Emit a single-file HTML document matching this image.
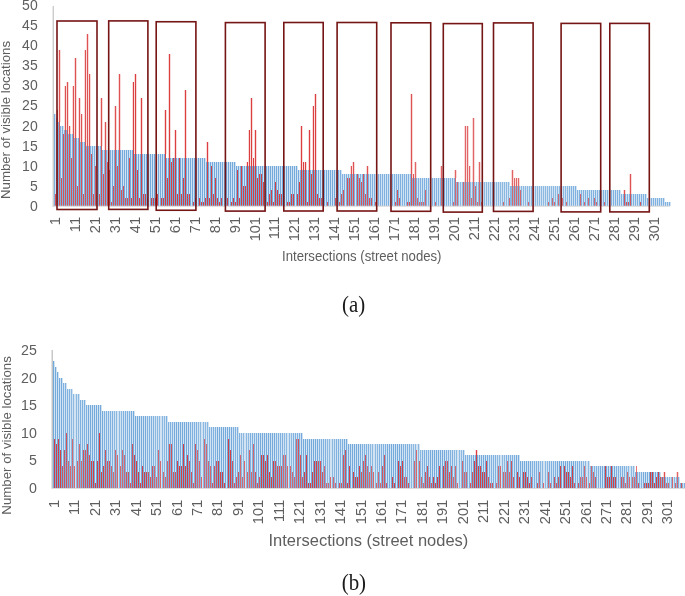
<!DOCTYPE html>
<html><head><meta charset="utf-8"><title>Intersections chart</title>
<style>
html,body{margin:0;padding:0;background:#fff;}
body{width:685px;height:596px;overflow:hidden;}
svg{display:block;font-family:"Liberation Sans",sans-serif;}
.cap{font-family:"Liberation Serif",serif;font-size:23.5px;fill:#1a1a1a;}
</style></head><body>
<svg width="685" height="596" viewBox="0 0 685 596">
<rect width="685" height="596" fill="#fff"/>
<g id="chart-a">
<path d="M53 205.9v-91.82h3v91.82zM55 205.9v-87.82h3v87.82zM57 205.9v-83.83h3v83.83zM59 205.9v-79.84h3v79.84zM61 205.9v-79.84h3v79.84zM63 205.9v-75.85h3v75.85zM65 205.9v-75.85h3v75.85zM67 205.9v-71.86h3v71.86zM69 205.9v-71.86h3v71.86zM71 205.9v-71.86h3v71.86zM73 205.9v-67.86h3v67.86zM75 205.9v-67.86h3v67.86zM77 205.9v-67.86h3v67.86zM79 205.9v-63.87h3v63.87zM81 205.9v-63.87h3v63.87zM83 205.9v-63.87h3v63.87zM85 205.9v-59.88h3v59.88zM87 205.9v-59.88h3v59.88zM89 205.9v-59.88h3v59.88zM91 205.9v-59.88h3v59.88zM93 205.9v-59.88h3v59.88zM95 205.9v-59.88h3v59.88zM97 205.9v-59.88h3v59.88zM99 205.9v-59.88h3v59.88zM101 205.9v-55.89h3v55.89zM103 205.9v-55.89h3v55.89zM105 205.9v-55.89h3v55.89zM107 205.9v-55.89h3v55.89zM109 205.9v-55.89h3v55.89zM111 205.9v-55.89h3v55.89zM113 205.9v-55.89h3v55.89zM115 205.9v-55.89h3v55.89zM117 205.9v-55.89h3v55.89zM119 205.9v-55.89h3v55.89zM121 205.9v-55.89h3v55.89zM123 205.9v-55.89h3v55.89zM125 205.9v-55.89h3v55.89zM127 205.9v-55.89h3v55.89zM129 205.9v-55.89h3v55.89zM131 205.9v-55.89h3v55.89zM133 205.9v-51.9h3v51.9zM135 205.9v-51.9h3v51.9zM137 205.9v-51.9h3v51.9zM139 205.9v-51.9h3v51.9zM141 205.9v-51.9h3v51.9zM143 205.9v-51.9h3v51.9zM145 205.9v-51.9h3v51.9zM147 205.9v-51.9h3v51.9zM149 205.9v-51.9h3v51.9zM151 205.9v-51.9h3v51.9zM153 205.9v-51.9h3v51.9zM155 205.9v-51.9h3v51.9zM157 205.9v-51.9h3v51.9zM159 205.9v-51.9h3v51.9zM161 205.9v-51.9h3v51.9zM163 205.9v-51.9h3v51.9zM165 205.9v-47.9h3v47.9zM167 205.9v-47.9h3v47.9zM169 205.9v-47.9h3v47.9zM171 205.9v-47.9h3v47.9zM173 205.9v-47.9h3v47.9zM175 205.9v-47.9h3v47.9zM177 205.9v-47.9h3v47.9zM179 205.9v-47.9h3v47.9zM181 205.9v-47.9h3v47.9zM183 205.9v-47.9h3v47.9zM185 205.9v-47.9h3v47.9zM187 205.9v-47.9h3v47.9zM189 205.9v-47.9h3v47.9zM191 205.9v-47.9h3v47.9zM193 205.9v-47.9h3v47.9zM195 205.9v-47.9h3v47.9zM197 205.9v-47.9h3v47.9zM199 205.9v-47.9h3v47.9zM201 205.9v-47.9h3v47.9zM203 205.9v-47.9h3v47.9zM205 205.9v-43.91h3v43.91zM207 205.9v-43.91h3v43.91zM209 205.9v-43.91h3v43.91zM211 205.9v-43.91h3v43.91zM213 205.9v-43.91h3v43.91zM215 205.9v-43.91h3v43.91zM217 205.9v-43.91h3v43.91zM219 205.9v-43.91h3v43.91zM221 205.9v-43.91h3v43.91zM223 205.9v-43.91h3v43.91zM225 205.9v-43.91h3v43.91zM227 205.9v-43.91h3v43.91zM229 205.9v-43.91h3v43.91zM231 205.9v-43.91h3v43.91zM233 205.9v-43.91h3v43.91zM235 205.9v-39.92h3v39.92zM237 205.9v-39.92h3v39.92zM239 205.9v-39.92h3v39.92zM241 205.9v-39.92h3v39.92zM243 205.9v-39.92h3v39.92zM245 205.9v-39.92h3v39.92zM247 205.9v-39.92h3v39.92zM249 205.9v-39.92h3v39.92zM251 205.9v-39.92h3v39.92zM253 205.9v-39.92h3v39.92zM255 205.9v-39.92h3v39.92zM257 205.9v-39.92h3v39.92zM259 205.9v-39.92h3v39.92zM261 205.9v-39.92h3v39.92zM263 205.9v-39.92h3v39.92zM265 205.9v-39.92h3v39.92zM267 205.9v-39.92h3v39.92zM269 205.9v-39.92h3v39.92zM271 205.9v-39.92h3v39.92zM273 205.9v-39.92h3v39.92zM275 205.9v-39.92h3v39.92zM277 205.9v-39.92h3v39.92zM279 205.9v-39.92h3v39.92zM281 205.9v-39.92h3v39.92zM283 205.9v-39.92h3v39.92zM285 205.9v-39.92h3v39.92zM287 205.9v-39.92h3v39.92zM289 205.9v-39.92h3v39.92zM291 205.9v-39.92h3v39.92zM293 205.9v-39.92h3v39.92zM295 205.9v-39.92h3v39.92zM297 205.9v-35.93h3v35.93zM299 205.9v-35.93h3v35.93zM301 205.9v-35.93h3v35.93zM303 205.9v-35.93h3v35.93zM305 205.9v-35.93h3v35.93zM307 205.9v-35.93h3v35.93zM309 205.9v-35.93h3v35.93zM311 205.9v-35.93h3v35.93zM313 205.9v-35.93h3v35.93zM315 205.9v-35.93h3v35.93zM317 205.9v-35.93h3v35.93zM319 205.9v-35.93h3v35.93zM321 205.9v-35.93h3v35.93zM323 205.9v-35.93h3v35.93zM325 205.9v-35.93h3v35.93zM327 205.9v-35.93h3v35.93zM329 205.9v-35.93h3v35.93zM331 205.9v-35.93h3v35.93zM333 205.9v-35.93h3v35.93zM335 205.9v-35.93h3v35.93zM337 205.9v-35.93h3v35.93zM339 205.9v-35.93h3v35.93zM341 205.9v-31.94h3v31.94zM343 205.9v-31.94h3v31.94zM345 205.9v-31.94h3v31.94zM347 205.9v-31.94h3v31.94zM349 205.9v-31.94h3v31.94zM351 205.9v-31.94h3v31.94zM353 205.9v-31.94h3v31.94zM355 205.9v-31.94h3v31.94zM357 205.9v-31.94h3v31.94zM359 205.9v-31.94h3v31.94zM361 205.9v-31.94h3v31.94zM363 205.9v-31.94h3v31.94zM365 205.9v-31.94h3v31.94zM367 205.9v-31.94h3v31.94zM369 205.9v-31.94h3v31.94zM371 205.9v-31.94h3v31.94zM373 205.9v-31.94h3v31.94zM375 205.9v-31.94h3v31.94zM377 205.9v-31.94h3v31.94zM379 205.9v-31.94h3v31.94zM381 205.9v-31.94h3v31.94zM383 205.9v-31.94h3v31.94zM385 205.9v-31.94h3v31.94zM387 205.9v-31.94h3v31.94zM389 205.9v-31.94h3v31.94zM391 205.9v-31.94h3v31.94zM393 205.9v-31.94h3v31.94zM395 205.9v-31.94h3v31.94zM397 205.9v-31.94h3v31.94zM399 205.9v-31.94h3v31.94zM401 205.9v-31.94h3v31.94zM403 205.9v-31.94h3v31.94zM405 205.9v-31.94h3v31.94zM407 205.9v-31.94h3v31.94zM409 205.9v-31.94h3v31.94zM411 205.9v-27.94h3v27.94zM413 205.9v-27.94h3v27.94zM415 205.9v-27.94h3v27.94zM417 205.9v-27.94h3v27.94zM419 205.9v-27.94h3v27.94zM421 205.9v-27.94h3v27.94zM423 205.9v-27.94h3v27.94zM425 205.9v-27.94h3v27.94zM427 205.9v-27.94h3v27.94zM429 205.9v-27.94h3v27.94zM431 205.9v-27.94h3v27.94zM433 205.9v-27.94h3v27.94zM435 205.9v-27.94h3v27.94zM437 205.9v-27.94h3v27.94zM439 205.9v-27.94h3v27.94zM441 205.9v-27.94h3v27.94zM443 205.9v-27.94h3v27.94zM445 205.9v-27.94h3v27.94zM447 205.9v-27.94h3v27.94zM449 205.9v-27.94h3v27.94zM451 205.9v-27.94h3v27.94zM453 205.9v-27.94h3v27.94zM455 205.9v-23.95h3v23.95zM457 205.9v-23.95h3v23.95zM459 205.9v-23.95h3v23.95zM461 205.9v-23.95h3v23.95zM463 205.9v-23.95h3v23.95zM465 205.9v-23.95h3v23.95zM467 205.9v-23.95h3v23.95zM469 205.9v-23.95h3v23.95zM471 205.9v-23.95h3v23.95zM473 205.9v-23.95h3v23.95zM475 205.9v-23.95h3v23.95zM477 205.9v-23.95h3v23.95zM479 205.9v-23.95h3v23.95zM481 205.9v-23.95h3v23.95zM483 205.9v-23.95h3v23.95zM485 205.9v-23.95h3v23.95zM487 205.9v-23.95h3v23.95zM489 205.9v-23.95h3v23.95zM491 205.9v-23.95h3v23.95zM493 205.9v-23.95h3v23.95zM495 205.9v-23.95h3v23.95zM497 205.9v-23.95h3v23.95zM499 205.9v-23.95h3v23.95zM501 205.9v-23.95h3v23.95zM503 205.9v-23.95h3v23.95zM505 205.9v-23.95h3v23.95zM507 205.9v-23.95h3v23.95zM509 205.9v-19.96h3v19.96zM510 205.9v-19.96h3v19.96zM512 205.9v-19.96h3v19.96zM514 205.9v-19.96h3v19.96zM516 205.9v-19.96h3v19.96zM518 205.9v-19.96h3v19.96zM520 205.9v-19.96h3v19.96zM522 205.9v-19.96h3v19.96zM524 205.9v-19.96h3v19.96zM526 205.9v-19.96h3v19.96zM528 205.9v-19.96h3v19.96zM530 205.9v-19.96h3v19.96zM532 205.9v-19.96h3v19.96zM534 205.9v-19.96h3v19.96zM536 205.9v-19.96h3v19.96zM538 205.9v-19.96h3v19.96zM540 205.9v-19.96h3v19.96zM542 205.9v-19.96h3v19.96zM544 205.9v-19.96h3v19.96zM546 205.9v-19.96h3v19.96zM548 205.9v-19.96h3v19.96zM550 205.9v-19.96h3v19.96zM552 205.9v-19.96h3v19.96zM554 205.9v-19.96h3v19.96zM556 205.9v-19.96h3v19.96zM558 205.9v-19.96h3v19.96zM560 205.9v-19.96h3v19.96zM562 205.9v-19.96h3v19.96zM564 205.9v-19.96h3v19.96zM566 205.9v-19.96h3v19.96zM568 205.9v-19.96h3v19.96zM570 205.9v-19.96h3v19.96zM572 205.9v-19.96h3v19.96zM574 205.9v-19.96h3v19.96zM576 205.9v-15.97h3v15.97zM578 205.9v-15.97h3v15.97zM580 205.9v-15.97h3v15.97zM582 205.9v-15.97h3v15.97zM584 205.9v-15.97h3v15.97zM586 205.9v-15.97h3v15.97zM588 205.9v-15.97h3v15.97zM590 205.9v-15.97h3v15.97zM592 205.9v-15.97h3v15.97zM594 205.9v-15.97h3v15.97zM596 205.9v-15.97h3v15.97zM598 205.9v-15.97h3v15.97zM600 205.9v-15.97h3v15.97zM602 205.9v-15.97h3v15.97zM604 205.9v-15.97h3v15.97zM606 205.9v-15.97h3v15.97zM608 205.9v-15.97h3v15.97zM610 205.9v-15.97h3v15.97zM612 205.9v-15.97h3v15.97zM614 205.9v-15.97h3v15.97zM616 205.9v-15.97h3v15.97zM618 205.9v-15.97h3v15.97zM620 205.9v-11.98h3v11.98zM622 205.9v-11.98h3v11.98zM624 205.9v-11.98h3v11.98zM626 205.9v-11.98h3v11.98zM628 205.9v-11.98h3v11.98zM630 205.9v-11.98h3v11.98zM632 205.9v-11.98h3v11.98zM634 205.9v-11.98h3v11.98zM636 205.9v-11.98h3v11.98zM638 205.9v-11.98h3v11.98zM640 205.9v-11.98h3v11.98zM642 205.9v-11.98h3v11.98zM644 205.9v-11.98h3v11.98zM646 205.9v-7.98h3v7.98zM648 205.9v-7.98h3v7.98zM650 205.9v-7.98h3v7.98zM652 205.9v-7.98h3v7.98zM654 205.9v-7.98h3v7.98zM656 205.9v-7.98h3v7.98zM658 205.9v-7.98h3v7.98zM660 205.9v-7.98h3v7.98zM662 205.9v-7.98h3v7.98zM664 205.9v-3.99h3v3.99zM666 205.9v-3.99h3v3.99zM668 205.9v-3.99h3v3.99z" fill="#5B9BD5" fill-opacity="0.28" shape-rendering="crispEdges"/>
<path d="M456 205.9v-23.95h1v23.95zM458 205.9v-23.95h1v23.95zM460 205.9v-23.95h1v23.95zM462 205.9v-23.95h1v23.95zM464 205.9v-23.95h1v23.95zM466 205.9v-23.95h1v23.95zM468 205.9v-23.95h1v23.95zM470 205.9v-23.95h1v23.95zM472 205.9v-23.95h1v23.95zM474 205.9v-23.95h1v23.95zM476 205.9v-23.95h1v23.95zM478 205.9v-23.95h1v23.95zM480 205.9v-23.95h1v23.95zM482 205.9v-23.95h1v23.95zM484 205.9v-23.95h1v23.95zM486 205.9v-23.95h1v23.95zM488 205.9v-23.95h1v23.95zM490 205.9v-23.95h1v23.95zM492 205.9v-23.95h1v23.95zM494 205.9v-23.95h1v23.95zM496 205.9v-23.95h1v23.95zM498 205.9v-23.95h1v23.95zM500 205.9v-23.95h1v23.95zM502 205.9v-23.95h1v23.95zM504 205.9v-23.95h1v23.95zM506 205.9v-23.95h1v23.95zM508 205.9v-23.95h1v23.95zM510 205.9v-19.96h1v19.96zM511 205.9v-19.96h1v19.96zM513 205.9v-19.96h1v19.96zM515 205.9v-19.96h1v19.96zM517 205.9v-19.96h1v19.96zM519 205.9v-19.96h1v19.96zM521 205.9v-19.96h1v19.96zM523 205.9v-19.96h1v19.96zM525 205.9v-19.96h1v19.96zM527 205.9v-19.96h1v19.96zM529 205.9v-19.96h1v19.96zM531 205.9v-19.96h1v19.96zM533 205.9v-19.96h1v19.96zM535 205.9v-19.96h1v19.96zM537 205.9v-19.96h1v19.96zM539 205.9v-19.96h1v19.96zM541 205.9v-19.96h1v19.96zM543 205.9v-19.96h1v19.96zM545 205.9v-19.96h1v19.96zM547 205.9v-19.96h1v19.96zM549 205.9v-19.96h1v19.96zM551 205.9v-19.96h1v19.96zM553 205.9v-19.96h1v19.96zM555 205.9v-19.96h1v19.96zM557 205.9v-19.96h1v19.96zM559 205.9v-19.96h1v19.96zM561 205.9v-19.96h1v19.96zM563 205.9v-19.96h1v19.96zM565 205.9v-19.96h1v19.96zM567 205.9v-19.96h1v19.96z" fill="#5B9BD5" fill-opacity="0.6" shape-rendering="crispEdges"/>
<path d="M54 205.9v-91.82h1v91.82zM56 205.9v-87.82h1v87.82zM58 205.9v-83.83h1v83.83zM60 205.9v-79.84h1v79.84zM62 205.9v-79.84h1v79.84zM64 205.9v-75.85h1v75.85zM66 205.9v-75.85h1v75.85zM68 205.9v-71.86h1v71.86zM70 205.9v-71.86h1v71.86zM72 205.9v-71.86h1v71.86zM74 205.9v-67.86h1v67.86zM76 205.9v-67.86h1v67.86zM78 205.9v-67.86h1v67.86zM80 205.9v-63.87h1v63.87zM82 205.9v-63.87h1v63.87zM84 205.9v-63.87h1v63.87zM86 205.9v-59.88h1v59.88zM88 205.9v-59.88h1v59.88zM90 205.9v-59.88h1v59.88zM92 205.9v-59.88h1v59.88zM94 205.9v-59.88h1v59.88zM96 205.9v-59.88h1v59.88zM98 205.9v-59.88h1v59.88zM100 205.9v-59.88h1v59.88zM102 205.9v-55.89h1v55.89zM104 205.9v-55.89h1v55.89zM106 205.9v-55.89h1v55.89zM108 205.9v-55.89h1v55.89zM110 205.9v-55.89h1v55.89zM340 205.9v-35.93h1v35.93zM342 205.9v-31.94h1v31.94zM344 205.9v-31.94h1v31.94zM346 205.9v-31.94h1v31.94zM348 205.9v-31.94h1v31.94zM350 205.9v-31.94h1v31.94zM352 205.9v-31.94h1v31.94zM354 205.9v-31.94h1v31.94zM356 205.9v-31.94h1v31.94zM358 205.9v-31.94h1v31.94zM360 205.9v-31.94h1v31.94zM362 205.9v-31.94h1v31.94zM364 205.9v-31.94h1v31.94zM366 205.9v-31.94h1v31.94zM368 205.9v-31.94h1v31.94zM370 205.9v-31.94h1v31.94zM372 205.9v-31.94h1v31.94zM374 205.9v-31.94h1v31.94zM376 205.9v-31.94h1v31.94zM378 205.9v-31.94h1v31.94zM380 205.9v-31.94h1v31.94zM382 205.9v-31.94h1v31.94zM384 205.9v-31.94h1v31.94zM386 205.9v-31.94h1v31.94zM388 205.9v-31.94h1v31.94zM390 205.9v-31.94h1v31.94zM392 205.9v-31.94h1v31.94zM394 205.9v-31.94h1v31.94zM396 205.9v-31.94h1v31.94zM398 205.9v-31.94h1v31.94zM400 205.9v-31.94h1v31.94zM402 205.9v-31.94h1v31.94zM404 205.9v-31.94h1v31.94zM406 205.9v-31.94h1v31.94zM408 205.9v-31.94h1v31.94zM410 205.9v-31.94h1v31.94zM412 205.9v-27.94h1v27.94zM414 205.9v-27.94h1v27.94zM416 205.9v-27.94h1v27.94zM418 205.9v-27.94h1v27.94zM420 205.9v-27.94h1v27.94zM422 205.9v-27.94h1v27.94zM424 205.9v-27.94h1v27.94zM426 205.9v-27.94h1v27.94zM428 205.9v-27.94h1v27.94zM430 205.9v-27.94h1v27.94zM432 205.9v-27.94h1v27.94zM434 205.9v-27.94h1v27.94zM436 205.9v-27.94h1v27.94zM438 205.9v-27.94h1v27.94zM440 205.9v-27.94h1v27.94zM442 205.9v-27.94h1v27.94zM444 205.9v-27.94h1v27.94zM446 205.9v-27.94h1v27.94zM448 205.9v-27.94h1v27.94zM450 205.9v-27.94h1v27.94zM452 205.9v-27.94h1v27.94zM454 205.9v-27.94h1v27.94zM569 205.9v-19.96h1v19.96zM571 205.9v-19.96h1v19.96zM573 205.9v-19.96h1v19.96zM575 205.9v-19.96h1v19.96zM577 205.9v-15.97h1v15.97zM579 205.9v-15.97h1v15.97zM581 205.9v-15.97h1v15.97zM583 205.9v-15.97h1v15.97zM585 205.9v-15.97h1v15.97zM587 205.9v-15.97h1v15.97zM589 205.9v-15.97h1v15.97zM591 205.9v-15.97h1v15.97zM593 205.9v-15.97h1v15.97zM595 205.9v-15.97h1v15.97zM597 205.9v-15.97h1v15.97zM599 205.9v-15.97h1v15.97zM601 205.9v-15.97h1v15.97zM603 205.9v-15.97h1v15.97zM605 205.9v-15.97h1v15.97zM607 205.9v-15.97h1v15.97zM609 205.9v-15.97h1v15.97zM611 205.9v-15.97h1v15.97zM613 205.9v-15.97h1v15.97zM615 205.9v-15.97h1v15.97zM617 205.9v-15.97h1v15.97zM619 205.9v-15.97h1v15.97zM621 205.9v-11.98h1v11.98zM623 205.9v-11.98h1v11.98zM625 205.9v-11.98h1v11.98zM627 205.9v-11.98h1v11.98zM629 205.9v-11.98h1v11.98zM631 205.9v-11.98h1v11.98zM633 205.9v-11.98h1v11.98zM635 205.9v-11.98h1v11.98zM637 205.9v-11.98h1v11.98zM639 205.9v-11.98h1v11.98zM641 205.9v-11.98h1v11.98zM643 205.9v-11.98h1v11.98zM645 205.9v-11.98h1v11.98zM647 205.9v-7.98h1v7.98zM649 205.9v-7.98h1v7.98zM651 205.9v-7.98h1v7.98zM653 205.9v-7.98h1v7.98zM655 205.9v-7.98h1v7.98zM657 205.9v-7.98h1v7.98zM659 205.9v-7.98h1v7.98zM661 205.9v-7.98h1v7.98zM663 205.9v-7.98h1v7.98zM665 205.9v-3.99h1v3.99zM667 205.9v-3.99h1v3.99zM669 205.9v-3.99h1v3.99z" fill="#5B9BD5" fill-opacity="0.7" shape-rendering="crispEdges"/>
<path d="M112 205.9v-55.89h1v55.89zM114 205.9v-55.89h1v55.89zM116 205.9v-55.89h1v55.89zM118 205.9v-55.89h1v55.89zM120 205.9v-55.89h1v55.89zM122 205.9v-55.89h1v55.89zM124 205.9v-55.89h1v55.89zM126 205.9v-55.89h1v55.89zM128 205.9v-55.89h1v55.89zM130 205.9v-55.89h1v55.89zM132 205.9v-55.89h1v55.89zM134 205.9v-51.9h1v51.9zM136 205.9v-51.9h1v51.9zM138 205.9v-51.9h1v51.9zM140 205.9v-51.9h1v51.9zM142 205.9v-51.9h1v51.9zM144 205.9v-51.9h1v51.9zM146 205.9v-51.9h1v51.9zM148 205.9v-51.9h1v51.9zM150 205.9v-51.9h1v51.9zM152 205.9v-51.9h1v51.9zM154 205.9v-51.9h1v51.9zM156 205.9v-51.9h1v51.9zM158 205.9v-51.9h1v51.9zM160 205.9v-51.9h1v51.9zM162 205.9v-51.9h1v51.9zM164 205.9v-51.9h1v51.9zM166 205.9v-47.9h1v47.9zM168 205.9v-47.9h1v47.9zM170 205.9v-47.9h1v47.9zM172 205.9v-47.9h1v47.9zM174 205.9v-47.9h1v47.9zM176 205.9v-47.9h1v47.9zM178 205.9v-47.9h1v47.9zM180 205.9v-47.9h1v47.9zM182 205.9v-47.9h1v47.9zM184 205.9v-47.9h1v47.9zM186 205.9v-47.9h1v47.9zM188 205.9v-47.9h1v47.9zM190 205.9v-47.9h1v47.9zM192 205.9v-47.9h1v47.9zM194 205.9v-47.9h1v47.9zM196 205.9v-47.9h1v47.9zM198 205.9v-47.9h1v47.9zM200 205.9v-47.9h1v47.9zM202 205.9v-47.9h1v47.9zM204 205.9v-47.9h1v47.9zM206 205.9v-43.91h1v43.91zM208 205.9v-43.91h1v43.91zM210 205.9v-43.91h1v43.91zM212 205.9v-43.91h1v43.91zM214 205.9v-43.91h1v43.91zM216 205.9v-43.91h1v43.91zM218 205.9v-43.91h1v43.91zM220 205.9v-43.91h1v43.91zM222 205.9v-43.91h1v43.91zM224 205.9v-43.91h1v43.91zM226 205.9v-43.91h1v43.91zM228 205.9v-43.91h1v43.91zM230 205.9v-43.91h1v43.91zM232 205.9v-43.91h1v43.91zM234 205.9v-43.91h1v43.91zM236 205.9v-39.92h1v39.92zM238 205.9v-39.92h1v39.92zM240 205.9v-39.92h1v39.92zM242 205.9v-39.92h1v39.92zM244 205.9v-39.92h1v39.92zM246 205.9v-39.92h1v39.92zM248 205.9v-39.92h1v39.92zM250 205.9v-39.92h1v39.92zM252 205.9v-39.92h1v39.92zM254 205.9v-39.92h1v39.92zM256 205.9v-39.92h1v39.92zM258 205.9v-39.92h1v39.92zM260 205.9v-39.92h1v39.92zM262 205.9v-39.92h1v39.92zM264 205.9v-39.92h1v39.92zM266 205.9v-39.92h1v39.92zM268 205.9v-39.92h1v39.92zM270 205.9v-39.92h1v39.92zM272 205.9v-39.92h1v39.92zM274 205.9v-39.92h1v39.92zM276 205.9v-39.92h1v39.92zM278 205.9v-39.92h1v39.92zM280 205.9v-39.92h1v39.92zM282 205.9v-39.92h1v39.92zM284 205.9v-39.92h1v39.92zM286 205.9v-39.92h1v39.92zM288 205.9v-39.92h1v39.92zM290 205.9v-39.92h1v39.92zM292 205.9v-39.92h1v39.92zM294 205.9v-39.92h1v39.92zM296 205.9v-39.92h1v39.92zM298 205.9v-35.93h1v35.93zM300 205.9v-35.93h1v35.93zM302 205.9v-35.93h1v35.93zM304 205.9v-35.93h1v35.93zM306 205.9v-35.93h1v35.93zM308 205.9v-35.93h1v35.93zM310 205.9v-35.93h1v35.93zM312 205.9v-35.93h1v35.93zM314 205.9v-35.93h1v35.93zM316 205.9v-35.93h1v35.93zM318 205.9v-35.93h1v35.93zM320 205.9v-35.93h1v35.93zM322 205.9v-35.93h1v35.93zM324 205.9v-35.93h1v35.93zM326 205.9v-35.93h1v35.93zM328 205.9v-35.93h1v35.93zM330 205.9v-35.93h1v35.93zM332 205.9v-35.93h1v35.93zM334 205.9v-35.93h1v35.93zM336 205.9v-35.93h1v35.93zM338 205.9v-35.93h1v35.93z" fill="#5B9BD5" fill-opacity="0.8" shape-rendering="crispEdges"/>
<path d="M56 118.08v-7.98h3v7.98zM58 122.07v-71.86h3v71.86zM64 130.05v-43.91h3v43.91zM66 130.05v-47.9h3v47.9zM68 134.04v-7.98h3v7.98zM72 134.04v-47.9h3v47.9zM74 138.04v-79.84h3v79.84zM78 138.04v-39.92h3v39.92zM80 142.03v-27.94h3v27.94zM84 142.03v-91.82h3v91.82zM86 146.02v-111.78h3v111.78zM88 146.02v-71.86h3v71.86zM100 146.02v-47.9h3v47.9zM104 150.01v-27.94h3v27.94zM114 150.01v-43.91h3v43.91zM118 150.01v-75.85h3v75.85zM132 150.01v-67.86h3v67.86zM134 154v-79.84h3v79.84zM140 154v-55.89h3v55.89zM164 154v-43.91h3v43.91zM168 158v-103.79h3v103.79zM174 158v-27.94h3v27.94zM184 158v-67.86h3v67.86zM206 161.99v-19.96h3v19.96zM246 165.98v-3.99h3v3.99zM248 165.98v-35.93h3v35.93zM250 165.98v-67.86h3v67.86zM252 165.98v-7.98h3v7.98zM254 165.98v-35.93h3v35.93zM300 169.97v-43.91h3v43.91zM302 169.97v-7.98h3v7.98zM304 169.97v-7.98h3v7.98zM308 169.97v-39.92h3v39.92zM312 169.97v-63.87h3v63.87zM314 169.97v-75.85h3v75.85zM350 173.96v-7.98h3v7.98zM352 173.96v-11.98h3v11.98zM366 173.96v-7.98h3v7.98zM410 173.96v-79.84h3v79.84zM412 177.96v-3.99h3v3.99zM414 177.96v-15.97h3v15.97zM440 177.96v-11.98h3v11.98zM454 177.96v-7.98h3v7.98zM464 181.95v-55.89h3v55.89zM466 181.95v-55.89h3v55.89zM468 181.95v-15.97h3v15.97zM472 181.95v-63.87h3v63.87zM478 181.95v-19.96h3v19.96zM511 185.94v-15.97h3v15.97zM513 185.94v-7.98h3v7.98zM515 185.94v-7.98h3v7.98zM517 185.94v-7.98h3v7.98zM623 193.92v-3.99h3v3.99zM629 193.92v-19.96h3v19.96z" fill="#D41818" fill-opacity="0.16" shape-rendering="crispEdges"/>
<path d="M415 205.9v-43.91h1v43.91zM417 205.9v-7.98h1v7.98zM419 205.9v-3.99h1v3.99zM421 205.9v-3.99h1v3.99zM423 205.9v-3.99h1v3.99zM425 205.9v-15.97h1v15.97zM435 205.9v-3.99h1v3.99zM441 205.9v-39.92h1v39.92zM453 205.9v-3.99h1v3.99zM455 205.9v-35.93h1v35.93zM457 205.9v-23.95h1v23.95zM463 205.9v-23.95h1v23.95zM465 205.9v-79.84h1v79.84zM467 205.9v-79.84h1v79.84zM469 205.9v-39.92h1v39.92zM471 205.9v-7.98h1v7.98zM473 205.9v-87.82h1v87.82zM475 205.9v-19.96h1v19.96zM477 205.9v-3.99h1v3.99zM479 205.9v-43.91h1v43.91zM481 205.9v-3.99h1v3.99zM503 205.9v-3.99h1v3.99zM509 205.9v-7.98h1v7.98zM512 205.9v-35.93h1v35.93zM514 205.9v-27.94h1v27.94zM516 205.9v-27.94h1v27.94zM518 205.9v-27.94h1v27.94zM520 205.9v-15.97h1v15.97zM528 205.9v-3.99h1v3.99zM548 205.9v-3.99h1v3.99zM552 205.9v-7.98h1v7.98zM554 205.9v-3.99h1v3.99zM558 205.9v-11.98h1v11.98zM562 205.9v-7.98h1v7.98zM566 205.9v-3.99h1v3.99zM580 205.9v-11.98h1v11.98zM584 205.9v-3.99h1v3.99zM588 205.9v-7.98h1v7.98zM594 205.9v-7.98h1v7.98zM596 205.9v-3.99h1v3.99zM604 205.9v-3.99h1v3.99z" fill="#D41818" fill-opacity="0.6" shape-rendering="crispEdges"/>
<path d="M53 205.9v-31.94h1v31.94zM55 205.9v-11.98h1v11.98zM57 205.9v-95.81h1v95.81zM59 205.9v-155.69h1v155.69zM61 205.9v-27.94h1v27.94zM63 205.9v-71.86h1v71.86zM65 205.9v-119.76h1v119.76zM67 205.9v-123.75h1v123.75zM69 205.9v-79.84h1v79.84zM71 205.9v-47.9h1v47.9zM73 205.9v-119.76h1v119.76zM75 205.9v-147.7h1v147.7zM77 205.9v-19.96h1v19.96zM79 205.9v-107.78h1v107.78zM81 205.9v-91.82h1v91.82zM83 205.9v-11.98h1v11.98zM85 205.9v-155.69h1v155.69zM87 205.9v-171.66h1v171.66zM89 205.9v-131.74h1v131.74zM91 205.9v-51.9h1v51.9zM93 205.9v-11.98h1v11.98zM95 205.9v-39.92h1v39.92zM99 205.9v-11.98h1v11.98zM101 205.9v-107.78h1v107.78zM103 205.9v-31.94h1v31.94zM105 205.9v-83.83h1v83.83zM107 205.9v-43.91h1v43.91zM109 205.9v-35.93h1v35.93zM111 205.9v-3.99h1v3.99zM113 205.9v-19.96h1v19.96zM115 205.9v-99.8h1v99.8zM117 205.9v-39.92h1v39.92zM119 205.9v-131.74h1v131.74zM121 205.9v-15.97h1v15.97zM123 205.9v-19.96h1v19.96zM125 205.9v-7.98h1v7.98zM127 205.9v-7.98h1v7.98zM129 205.9v-47.9h1v47.9zM321 205.9v-7.98h1v7.98zM327 205.9v-3.99h1v3.99zM335 205.9v-7.98h1v7.98zM339 205.9v-3.99h1v3.99zM341 205.9v-11.98h1v11.98zM343 205.9v-15.97h1v15.97zM347 205.9v-27.94h1v27.94zM349 205.9v-27.94h1v27.94zM351 205.9v-39.92h1v39.92zM353 205.9v-43.91h1v43.91zM357 205.9v-31.94h1v31.94zM359 205.9v-27.94h1v27.94zM361 205.9v-23.95h1v23.95zM363 205.9v-31.94h1v31.94zM365 205.9v-11.98h1v11.98zM367 205.9v-39.92h1v39.92zM369 205.9v-7.98h1v7.98zM371 205.9v-7.98h1v7.98zM375 205.9v-3.99h1v3.99zM395 205.9v-3.99h1v3.99zM397 205.9v-15.97h1v15.97zM399 205.9v-7.98h1v7.98zM407 205.9v-3.99h1v3.99zM409 205.9v-3.99h1v3.99zM411 205.9v-111.78h1v111.78zM413 205.9v-31.94h1v31.94zM624 205.9v-15.97h1v15.97zM626 205.9v-3.99h1v3.99zM628 205.9v-3.99h1v3.99zM630 205.9v-31.94h1v31.94zM640 205.9v-3.99h1v3.99z" fill="#D41818" fill-opacity="0.7" shape-rendering="crispEdges"/>
<path d="M131 205.9v-7.98h1v7.98zM133 205.9v-123.75h1v123.75zM135 205.9v-131.74h1v131.74zM137 205.9v-35.93h1v35.93zM139 205.9v-7.98h1v7.98zM141 205.9v-107.78h1v107.78zM143 205.9v-11.98h1v11.98zM145 205.9v-11.98h1v11.98zM147 205.9v-7.98h1v7.98zM151 205.9v-7.98h1v7.98zM153 205.9v-7.98h1v7.98zM155 205.9v-7.98h1v7.98zM157 205.9v-11.98h1v11.98zM161 205.9v-7.98h1v7.98zM163 205.9v-7.98h1v7.98zM165 205.9v-95.81h1v95.81zM167 205.9v-27.94h1v27.94zM169 205.9v-151.7h1v151.7zM171 205.9v-43.91h1v43.91zM173 205.9v-47.9h1v47.9zM175 205.9v-75.85h1v75.85zM177 205.9v-11.98h1v11.98zM179 205.9v-47.9h1v47.9zM181 205.9v-11.98h1v11.98zM183 205.9v-27.94h1v27.94zM185 205.9v-115.77h1v115.77zM187 205.9v-11.98h1v11.98zM189 205.9v-11.98h1v11.98zM193 205.9v-3.99h1v3.99zM195 205.9v-7.98h1v7.98zM199 205.9v-7.98h1v7.98zM201 205.9v-3.99h1v3.99zM203 205.9v-3.99h1v3.99zM205 205.9v-7.98h1v7.98zM207 205.9v-63.87h1v63.87zM209 205.9v-7.98h1v7.98zM211 205.9v-39.92h1v39.92zM213 205.9v-11.98h1v11.98zM215 205.9v-27.94h1v27.94zM217 205.9v-7.98h1v7.98zM219 205.9v-3.99h1v3.99zM221 205.9v-7.98h1v7.98zM227 205.9v-7.98h1v7.98zM231 205.9v-3.99h1v3.99zM233 205.9v-7.98h1v7.98zM235 205.9v-3.99h1v3.99zM237 205.9v-35.93h1v35.93zM239 205.9v-7.98h1v7.98zM241 205.9v-39.92h1v39.92zM243 205.9v-19.96h1v19.96zM245 205.9v-19.96h1v19.96zM247 205.9v-43.91h1v43.91zM249 205.9v-75.85h1v75.85zM251 205.9v-107.78h1v107.78zM253 205.9v-47.9h1v47.9zM255 205.9v-75.85h1v75.85zM257 205.9v-27.94h1v27.94zM259 205.9v-31.94h1v31.94zM261 205.9v-31.94h1v31.94zM263 205.9v-23.95h1v23.95zM267 205.9v-3.99h1v3.99zM269 205.9v-11.98h1v11.98zM271 205.9v-15.97h1v15.97zM273 205.9v-3.99h1v3.99zM275 205.9v-23.95h1v23.95zM277 205.9v-15.97h1v15.97zM279 205.9v-11.98h1v11.98zM281 205.9v-11.98h1v11.98zM283 205.9v-7.98h1v7.98zM287 205.9v-3.99h1v3.99zM289 205.9v-3.99h1v3.99zM291 205.9v-11.98h1v11.98zM293 205.9v-11.98h1v11.98zM297 205.9v-11.98h1v11.98zM299 205.9v-23.95h1v23.95zM301 205.9v-79.84h1v79.84zM303 205.9v-43.91h1v43.91zM305 205.9v-43.91h1v43.91zM307 205.9v-3.99h1v3.99zM309 205.9v-75.85h1v75.85zM311 205.9v-31.94h1v31.94zM313 205.9v-99.8h1v99.8zM315 205.9v-111.78h1v111.78zM317 205.9v-11.98h1v11.98zM319 205.9v-7.98h1v7.98z" fill="#D41818" fill-opacity="0.8" shape-rendering="crispEdges"/>
<line x1="53.3" y1="6" x2="53.3" y2="206.5" stroke="#CCCCCC" stroke-width="1.45"/>
<line x1="52.6" y1="206.2" x2="670" y2="206.2" stroke="#D4D4D4" stroke-width="1"/>
<rect x="57" y="21" width="40" height="188.5" fill="none" stroke="#761515" stroke-width="1.6"/>
<rect x="108.7" y="20.9" width="39.2" height="188.5" fill="none" stroke="#761515" stroke-width="1.6"/>
<rect x="156.2" y="21.75" width="39.7" height="188.5" fill="none" stroke="#761515" stroke-width="1.6"/>
<rect x="225.4" y="22.6" width="39.7" height="188.5" fill="none" stroke="#761515" stroke-width="1.6"/>
<rect x="283.8" y="22.5" width="39.4" height="188.5" fill="none" stroke="#761515" stroke-width="1.6"/>
<rect x="337.1" y="22.5" width="39.6" height="188.5" fill="none" stroke="#761515" stroke-width="1.6"/>
<rect x="391" y="22.8" width="39.7" height="188.5" fill="none" stroke="#761515" stroke-width="1.6"/>
<rect x="443.3" y="23.6" width="39" height="188.5" fill="none" stroke="#761515" stroke-width="1.6"/>
<rect x="493.5" y="22.9" width="39.6" height="188.5" fill="none" stroke="#761515" stroke-width="1.6"/>
<rect x="561.1" y="23.4" width="39.6" height="188.5" fill="none" stroke="#761515" stroke-width="1.6"/>
<rect x="609.8" y="23.4" width="39.5" height="188.5" fill="none" stroke="#761515" stroke-width="1.6"/>
<text x="37.7" y="210.9" text-anchor="end" font-size="14" fill="#5e5e5e">0</text>
<text x="37.7" y="190.8" text-anchor="end" font-size="14" fill="#5e5e5e">5</text>
<text x="37.7" y="170.7" text-anchor="end" font-size="14" fill="#5e5e5e">10</text>
<text x="37.7" y="150.6" text-anchor="end" font-size="14" fill="#5e5e5e">15</text>
<text x="37.7" y="130.5" text-anchor="end" font-size="14" fill="#5e5e5e">20</text>
<text x="37.7" y="110.4" text-anchor="end" font-size="14" fill="#5e5e5e">25</text>
<text x="37.7" y="90.3" text-anchor="end" font-size="14" fill="#5e5e5e">30</text>
<text x="37.7" y="70.2" text-anchor="end" font-size="14" fill="#5e5e5e">35</text>
<text x="37.7" y="50.1" text-anchor="end" font-size="14" fill="#5e5e5e">40</text>
<text x="37.7" y="30" text-anchor="end" font-size="14" fill="#5e5e5e">45</text>
<text x="37.7" y="9.9" text-anchor="end" font-size="14" fill="#5e5e5e">50</text>
<text transform="translate(60 217) rotate(-90)" text-anchor="end" font-size="14.6" fill="#5e5e5e">1</text>
<text transform="translate(79.95 217) rotate(-90)" text-anchor="end" font-size="14.6" fill="#5e5e5e">11</text>
<text transform="translate(99.9 217) rotate(-90)" text-anchor="end" font-size="14.6" fill="#5e5e5e">21</text>
<text transform="translate(119.85 217) rotate(-90)" text-anchor="end" font-size="14.6" fill="#5e5e5e">31</text>
<text transform="translate(139.8 217) rotate(-90)" text-anchor="end" font-size="14.6" fill="#5e5e5e">41</text>
<text transform="translate(159.75 217) rotate(-90)" text-anchor="end" font-size="14.6" fill="#5e5e5e">51</text>
<text transform="translate(179.7 217) rotate(-90)" text-anchor="end" font-size="14.6" fill="#5e5e5e">61</text>
<text transform="translate(199.65 217) rotate(-90)" text-anchor="end" font-size="14.6" fill="#5e5e5e">71</text>
<text transform="translate(219.6 217) rotate(-90)" text-anchor="end" font-size="14.6" fill="#5e5e5e">81</text>
<text transform="translate(239.55 217) rotate(-90)" text-anchor="end" font-size="14.6" fill="#5e5e5e">91</text>
<text transform="translate(259.5 217) rotate(-90)" text-anchor="end" font-size="14.6" fill="#5e5e5e">101</text>
<text transform="translate(279.45 217) rotate(-90)" text-anchor="end" font-size="14.6" fill="#5e5e5e">111</text>
<text transform="translate(299.4 217) rotate(-90)" text-anchor="end" font-size="14.6" fill="#5e5e5e">121</text>
<text transform="translate(319.35 217) rotate(-90)" text-anchor="end" font-size="14.6" fill="#5e5e5e">131</text>
<text transform="translate(339.3 217) rotate(-90)" text-anchor="end" font-size="14.6" fill="#5e5e5e">141</text>
<text transform="translate(359.25 217) rotate(-90)" text-anchor="end" font-size="14.6" fill="#5e5e5e">151</text>
<text transform="translate(379.2 217) rotate(-90)" text-anchor="end" font-size="14.6" fill="#5e5e5e">161</text>
<text transform="translate(399.15 217) rotate(-90)" text-anchor="end" font-size="14.6" fill="#5e5e5e">171</text>
<text transform="translate(419.1 217) rotate(-90)" text-anchor="end" font-size="14.6" fill="#5e5e5e">181</text>
<text transform="translate(439.05 217) rotate(-90)" text-anchor="end" font-size="14.6" fill="#5e5e5e">191</text>
<text transform="translate(459 217) rotate(-90)" text-anchor="end" font-size="14.6" fill="#5e5e5e">201</text>
<text transform="translate(478.95 217) rotate(-90)" text-anchor="end" font-size="14.6" fill="#5e5e5e">211</text>
<text transform="translate(498.9 217) rotate(-90)" text-anchor="end" font-size="14.6" fill="#5e5e5e">221</text>
<text transform="translate(518.85 217) rotate(-90)" text-anchor="end" font-size="14.6" fill="#5e5e5e">231</text>
<text transform="translate(538.8 217) rotate(-90)" text-anchor="end" font-size="14.6" fill="#5e5e5e">241</text>
<text transform="translate(558.75 217) rotate(-90)" text-anchor="end" font-size="14.6" fill="#5e5e5e">251</text>
<text transform="translate(578.7 217) rotate(-90)" text-anchor="end" font-size="14.6" fill="#5e5e5e">261</text>
<text transform="translate(598.65 217) rotate(-90)" text-anchor="end" font-size="14.6" fill="#5e5e5e">271</text>
<text transform="translate(618.6 217) rotate(-90)" text-anchor="end" font-size="14.6" fill="#5e5e5e">281</text>
<text transform="translate(638.55 217) rotate(-90)" text-anchor="end" font-size="14.6" fill="#5e5e5e">291</text>
<text transform="translate(658.5 217) rotate(-90)" text-anchor="end" font-size="14.6" fill="#5e5e5e">301</text>
<text transform="translate(10.1 199) rotate(-90)" font-size="13.5" fill="#5e5e5e" textLength="158" lengthAdjust="spacingAndGlyphs">Number of visible locations</text>
<text x="282" y="260.5" font-size="14.2" fill="#5e5e5e" textLength="159.5" lengthAdjust="spacingAndGlyphs">Intersections (street nodes)</text>
</g>
<text class="cap" x="342" y="312" textLength="23.2" lengthAdjust="spacingAndGlyphs">(a)</text>
<g id="chart-b">
<path d="M52 488.1v-126.73h3v126.73zM54 488.1v-121.22h3v121.22zM56 488.1v-115.71h3v115.71zM58 488.1v-110.2h3v110.2zM60 488.1v-110.2h3v110.2zM62 488.1v-104.69h3v104.69zM64 488.1v-104.69h3v104.69zM66 488.1v-99.18h3v99.18zM68 488.1v-99.18h3v99.18zM70 488.1v-99.18h3v99.18zM72 488.1v-93.67h3v93.67zM75 488.1v-93.67h3v93.67zM77 488.1v-93.67h3v93.67zM79 488.1v-88.16h3v88.16zM81 488.1v-88.16h3v88.16zM83 488.1v-88.16h3v88.16zM85 488.1v-82.65h3v82.65zM87 488.1v-82.65h3v82.65zM89 488.1v-82.65h3v82.65zM91 488.1v-82.65h3v82.65zM93 488.1v-82.65h3v82.65zM95 488.1v-82.65h3v82.65zM97 488.1v-82.65h3v82.65zM99 488.1v-82.65h3v82.65zM101 488.1v-77.14h3v77.14zM103 488.1v-77.14h3v77.14zM105 488.1v-77.14h3v77.14zM107 488.1v-77.14h3v77.14zM109 488.1v-77.14h3v77.14zM111 488.1v-77.14h3v77.14zM113 488.1v-77.14h3v77.14zM115 488.1v-77.14h3v77.14zM118 488.1v-77.14h3v77.14zM120 488.1v-77.14h3v77.14zM122 488.1v-77.14h3v77.14zM124 488.1v-77.14h3v77.14zM126 488.1v-77.14h3v77.14zM128 488.1v-77.14h3v77.14zM130 488.1v-77.14h3v77.14zM132 488.1v-77.14h3v77.14zM134 488.1v-71.63h3v71.63zM136 488.1v-71.63h3v71.63zM138 488.1v-71.63h3v71.63zM140 488.1v-71.63h3v71.63zM142 488.1v-71.63h3v71.63zM144 488.1v-71.63h3v71.63zM146 488.1v-71.63h3v71.63zM148 488.1v-71.63h3v71.63zM150 488.1v-71.63h3v71.63zM152 488.1v-71.63h3v71.63zM154 488.1v-71.63h3v71.63zM156 488.1v-71.63h3v71.63zM158 488.1v-71.63h3v71.63zM161 488.1v-71.63h3v71.63zM163 488.1v-71.63h3v71.63zM165 488.1v-71.63h3v71.63zM167 488.1v-66.12h3v66.12zM169 488.1v-66.12h3v66.12zM171 488.1v-66.12h3v66.12zM173 488.1v-66.12h3v66.12zM175 488.1v-66.12h3v66.12zM177 488.1v-66.12h3v66.12zM179 488.1v-66.12h3v66.12zM181 488.1v-66.12h3v66.12zM183 488.1v-66.12h3v66.12zM185 488.1v-66.12h3v66.12zM187 488.1v-66.12h3v66.12zM189 488.1v-66.12h3v66.12zM191 488.1v-66.12h3v66.12zM193 488.1v-66.12h3v66.12zM195 488.1v-66.12h3v66.12zM197 488.1v-66.12h3v66.12zM199 488.1v-66.12h3v66.12zM202 488.1v-66.12h3v66.12zM204 488.1v-66.12h3v66.12zM206 488.1v-66.12h3v66.12zM208 488.1v-60.61h3v60.61zM210 488.1v-60.61h3v60.61zM212 488.1v-60.61h3v60.61zM214 488.1v-60.61h3v60.61zM216 488.1v-60.61h3v60.61zM218 488.1v-60.61h3v60.61zM220 488.1v-60.61h3v60.61zM222 488.1v-60.61h3v60.61zM224 488.1v-60.61h3v60.61zM226 488.1v-60.61h3v60.61zM228 488.1v-60.61h3v60.61zM230 488.1v-60.61h3v60.61zM232 488.1v-60.61h3v60.61zM234 488.1v-60.61h3v60.61zM236 488.1v-60.61h3v60.61zM238 488.1v-55.1h3v55.1zM240 488.1v-55.1h3v55.1zM242 488.1v-55.1h3v55.1zM245 488.1v-55.1h3v55.1zM247 488.1v-55.1h3v55.1zM249 488.1v-55.1h3v55.1zM251 488.1v-55.1h3v55.1zM253 488.1v-55.1h3v55.1zM255 488.1v-55.1h3v55.1zM257 488.1v-55.1h3v55.1zM259 488.1v-55.1h3v55.1zM261 488.1v-55.1h3v55.1zM263 488.1v-55.1h3v55.1zM265 488.1v-55.1h3v55.1zM267 488.1v-55.1h3v55.1zM269 488.1v-55.1h3v55.1zM271 488.1v-55.1h3v55.1zM273 488.1v-55.1h3v55.1zM275 488.1v-55.1h3v55.1zM277 488.1v-55.1h3v55.1zM279 488.1v-55.1h3v55.1zM281 488.1v-55.1h3v55.1zM283 488.1v-55.1h3v55.1zM285 488.1v-55.1h3v55.1zM288 488.1v-55.1h3v55.1zM290 488.1v-55.1h3v55.1zM292 488.1v-55.1h3v55.1zM294 488.1v-55.1h3v55.1zM296 488.1v-55.1h3v55.1zM298 488.1v-55.1h3v55.1zM300 488.1v-55.1h3v55.1zM302 488.1v-49.59h3v49.59zM304 488.1v-49.59h3v49.59zM306 488.1v-49.59h3v49.59zM308 488.1v-49.59h3v49.59zM310 488.1v-49.59h3v49.59zM312 488.1v-49.59h3v49.59zM314 488.1v-49.59h3v49.59zM316 488.1v-49.59h3v49.59zM318 488.1v-49.59h3v49.59zM320 488.1v-49.59h3v49.59zM322 488.1v-49.59h3v49.59zM324 488.1v-49.59h3v49.59zM326 488.1v-49.59h3v49.59zM328 488.1v-49.59h3v49.59zM331 488.1v-49.59h3v49.59zM333 488.1v-49.59h3v49.59zM335 488.1v-49.59h3v49.59zM337 488.1v-49.59h3v49.59zM339 488.1v-49.59h3v49.59zM341 488.1v-49.59h3v49.59zM343 488.1v-49.59h3v49.59zM345 488.1v-49.59h3v49.59zM347 488.1v-44.08h3v44.08zM349 488.1v-44.08h3v44.08zM351 488.1v-44.08h3v44.08zM353 488.1v-44.08h3v44.08zM355 488.1v-44.08h3v44.08zM357 488.1v-44.08h3v44.08zM359 488.1v-44.08h3v44.08zM361 488.1v-44.08h3v44.08zM363 488.1v-44.08h3v44.08zM365 488.1v-44.08h3v44.08zM367 488.1v-44.08h3v44.08zM369 488.1v-44.08h3v44.08zM371 488.1v-44.08h3v44.08zM374 488.1v-44.08h3v44.08zM376 488.1v-44.08h3v44.08zM378 488.1v-44.08h3v44.08zM380 488.1v-44.08h3v44.08zM382 488.1v-44.08h3v44.08zM384 488.1v-44.08h3v44.08zM386 488.1v-44.08h3v44.08zM388 488.1v-44.08h3v44.08zM390 488.1v-44.08h3v44.08zM392 488.1v-44.08h3v44.08zM394 488.1v-44.08h3v44.08zM396 488.1v-44.08h3v44.08zM398 488.1v-44.08h3v44.08zM400 488.1v-44.08h3v44.08zM402 488.1v-44.08h3v44.08zM404 488.1v-44.08h3v44.08zM406 488.1v-44.08h3v44.08zM408 488.1v-44.08h3v44.08zM410 488.1v-44.08h3v44.08zM412 488.1v-44.08h3v44.08zM414 488.1v-44.08h3v44.08zM417 488.1v-44.08h3v44.08zM419 488.1v-38.57h3v38.57zM421 488.1v-38.57h3v38.57zM423 488.1v-38.57h3v38.57zM425 488.1v-38.57h3v38.57zM427 488.1v-38.57h3v38.57zM429 488.1v-38.57h3v38.57zM431 488.1v-38.57h3v38.57zM433 488.1v-38.57h3v38.57zM435 488.1v-38.57h3v38.57zM437 488.1v-38.57h3v38.57zM439 488.1v-38.57h3v38.57zM441 488.1v-38.57h3v38.57zM443 488.1v-38.57h3v38.57zM445 488.1v-38.57h3v38.57zM447 488.1v-38.57h3v38.57zM449 488.1v-38.57h3v38.57zM451 488.1v-38.57h3v38.57zM453 488.1v-38.57h3v38.57zM455 488.1v-38.57h3v38.57zM458 488.1v-38.57h3v38.57zM460 488.1v-38.57h3v38.57zM462 488.1v-38.57h3v38.57zM464 488.1v-33.06h3v33.06zM466 488.1v-33.06h3v33.06zM468 488.1v-33.06h3v33.06zM470 488.1v-33.06h3v33.06zM472 488.1v-33.06h3v33.06zM474 488.1v-33.06h3v33.06zM476 488.1v-33.06h3v33.06zM478 488.1v-33.06h3v33.06zM480 488.1v-33.06h3v33.06zM482 488.1v-33.06h3v33.06zM484 488.1v-33.06h3v33.06zM486 488.1v-33.06h3v33.06zM488 488.1v-33.06h3v33.06zM490 488.1v-33.06h3v33.06zM492 488.1v-33.06h3v33.06zM494 488.1v-33.06h3v33.06zM496 488.1v-33.06h3v33.06zM498 488.1v-33.06h3v33.06zM501 488.1v-33.06h3v33.06zM503 488.1v-33.06h3v33.06zM505 488.1v-33.06h3v33.06zM507 488.1v-33.06h3v33.06zM509 488.1v-33.06h3v33.06zM511 488.1v-33.06h3v33.06zM513 488.1v-33.06h3v33.06zM515 488.1v-33.06h3v33.06zM517 488.1v-33.06h3v33.06zM519 488.1v-27.55h3v27.55zM521 488.1v-27.55h3v27.55zM523 488.1v-27.55h3v27.55zM525 488.1v-27.55h3v27.55zM527 488.1v-27.55h3v27.55zM529 488.1v-27.55h3v27.55zM531 488.1v-27.55h3v27.55zM533 488.1v-27.55h3v27.55zM535 488.1v-27.55h3v27.55zM537 488.1v-27.55h3v27.55zM539 488.1v-27.55h3v27.55zM541 488.1v-27.55h3v27.55zM544 488.1v-27.55h3v27.55zM546 488.1v-27.55h3v27.55zM548 488.1v-27.55h3v27.55zM550 488.1v-27.55h3v27.55zM552 488.1v-27.55h3v27.55zM554 488.1v-27.55h3v27.55zM556 488.1v-27.55h3v27.55zM558 488.1v-27.55h3v27.55zM560 488.1v-27.55h3v27.55zM562 488.1v-27.55h3v27.55zM564 488.1v-27.55h3v27.55zM566 488.1v-27.55h3v27.55zM568 488.1v-27.55h3v27.55zM570 488.1v-27.55h3v27.55zM572 488.1v-27.55h3v27.55zM574 488.1v-27.55h3v27.55zM576 488.1v-27.55h3v27.55zM578 488.1v-27.55h3v27.55zM580 488.1v-27.55h3v27.55zM582 488.1v-27.55h3v27.55zM584 488.1v-27.55h3v27.55zM587 488.1v-27.55h3v27.55zM589 488.1v-22.04h3v22.04zM591 488.1v-22.04h3v22.04zM593 488.1v-22.04h3v22.04zM595 488.1v-22.04h3v22.04zM597 488.1v-22.04h3v22.04zM599 488.1v-22.04h3v22.04zM601 488.1v-22.04h3v22.04zM603 488.1v-22.04h3v22.04zM605 488.1v-22.04h3v22.04zM607 488.1v-22.04h3v22.04zM609 488.1v-22.04h3v22.04zM611 488.1v-22.04h3v22.04zM613 488.1v-22.04h3v22.04zM615 488.1v-22.04h3v22.04zM617 488.1v-22.04h3v22.04zM619 488.1v-22.04h3v22.04zM621 488.1v-22.04h3v22.04zM623 488.1v-22.04h3v22.04zM625 488.1v-22.04h3v22.04zM627 488.1v-22.04h3v22.04zM630 488.1v-22.04h3v22.04zM632 488.1v-22.04h3v22.04zM634 488.1v-16.53h3v16.53zM636 488.1v-16.53h3v16.53zM638 488.1v-16.53h3v16.53zM640 488.1v-16.53h3v16.53zM642 488.1v-16.53h3v16.53zM644 488.1v-16.53h3v16.53zM646 488.1v-16.53h3v16.53zM648 488.1v-16.53h3v16.53zM650 488.1v-16.53h3v16.53zM652 488.1v-16.53h3v16.53zM654 488.1v-16.53h3v16.53zM656 488.1v-16.53h3v16.53zM658 488.1v-16.53h3v16.53zM660 488.1v-11.02h3v11.02zM662 488.1v-11.02h3v11.02zM664 488.1v-11.02h3v11.02zM666 488.1v-11.02h3v11.02zM668 488.1v-11.02h3v11.02zM670 488.1v-11.02h3v11.02zM673 488.1v-11.02h3v11.02zM675 488.1v-11.02h3v11.02zM677 488.1v-11.02h3v11.02zM679 488.1v-5.51h3v5.51zM681 488.1v-5.51h3v5.51zM683 488.1v-5.51h3v5.51z" fill="#5B9BD5" fill-opacity="0.28" shape-rendering="crispEdges"/>
<path d="M71 488.1v-99.18h1v99.18zM73 488.1v-93.67h1v93.67zM76 488.1v-93.67h1v93.67zM78 488.1v-93.67h1v93.67zM114 488.1v-77.14h1v77.14zM116 488.1v-77.14h1v77.14zM119 488.1v-77.14h1v77.14zM121 488.1v-77.14h1v77.14zM155 488.1v-71.63h1v71.63zM157 488.1v-71.63h1v71.63zM159 488.1v-71.63h1v71.63zM162 488.1v-71.63h1v71.63zM164 488.1v-71.63h1v71.63zM198 488.1v-66.12h1v66.12zM200 488.1v-66.12h1v66.12zM203 488.1v-66.12h1v66.12zM205 488.1v-66.12h1v66.12zM207 488.1v-66.12h1v66.12zM241 488.1v-55.1h1v55.1zM243 488.1v-55.1h1v55.1zM246 488.1v-55.1h1v55.1zM248 488.1v-55.1h1v55.1zM284 488.1v-55.1h1v55.1zM286 488.1v-55.1h1v55.1zM289 488.1v-55.1h1v55.1zM291 488.1v-55.1h1v55.1zM327 488.1v-49.59h1v49.59zM329 488.1v-49.59h1v49.59zM332 488.1v-49.59h1v49.59zM334 488.1v-49.59h1v49.59zM370 488.1v-44.08h1v44.08zM372 488.1v-44.08h1v44.08zM375 488.1v-44.08h1v44.08zM377 488.1v-44.08h1v44.08zM411 488.1v-44.08h1v44.08zM413 488.1v-44.08h1v44.08zM415 488.1v-44.08h1v44.08zM418 488.1v-44.08h1v44.08zM420 488.1v-38.57h1v38.57zM454 488.1v-38.57h1v38.57zM456 488.1v-38.57h1v38.57zM459 488.1v-38.57h1v38.57zM461 488.1v-38.57h1v38.57zM497 488.1v-33.06h1v33.06zM499 488.1v-33.06h1v33.06zM502 488.1v-33.06h1v33.06zM504 488.1v-33.06h1v33.06zM540 488.1v-27.55h1v27.55zM542 488.1v-27.55h1v27.55zM545 488.1v-27.55h1v27.55zM547 488.1v-27.55h1v27.55zM583 488.1v-27.55h1v27.55zM585 488.1v-27.55h1v27.55zM588 488.1v-27.55h1v27.55zM590 488.1v-22.04h1v22.04zM626 488.1v-22.04h1v22.04zM628 488.1v-22.04h1v22.04zM631 488.1v-22.04h1v22.04zM633 488.1v-22.04h1v22.04zM669 488.1v-11.02h1v11.02zM671 488.1v-11.02h1v11.02zM674 488.1v-11.02h1v11.02zM676 488.1v-11.02h1v11.02z" fill="#5B9BD5" fill-opacity="0.6" shape-rendering="crispEdges"/>
<path d="M63 488.1v-104.69h1v104.69zM65 488.1v-104.69h1v104.69zM67 488.1v-99.18h1v99.18zM69 488.1v-99.18h1v99.18zM80 488.1v-88.16h1v88.16zM82 488.1v-88.16h1v88.16zM84 488.1v-88.16h1v88.16zM86 488.1v-82.65h1v82.65zM104 488.1v-77.14h1v77.14zM106 488.1v-77.14h1v77.14zM108 488.1v-77.14h1v77.14zM110 488.1v-77.14h1v77.14zM112 488.1v-77.14h1v77.14zM123 488.1v-77.14h1v77.14zM125 488.1v-77.14h1v77.14zM127 488.1v-77.14h1v77.14zM129 488.1v-77.14h1v77.14zM147 488.1v-71.63h1v71.63zM149 488.1v-71.63h1v71.63zM151 488.1v-71.63h1v71.63zM153 488.1v-71.63h1v71.63zM166 488.1v-71.63h1v71.63zM168 488.1v-66.12h1v66.12zM170 488.1v-66.12h1v66.12zM172 488.1v-66.12h1v66.12zM190 488.1v-66.12h1v66.12zM192 488.1v-66.12h1v66.12zM194 488.1v-66.12h1v66.12zM196 488.1v-66.12h1v66.12zM209 488.1v-60.61h1v60.61zM211 488.1v-60.61h1v60.61zM213 488.1v-60.61h1v60.61zM215 488.1v-60.61h1v60.61zM233 488.1v-60.61h1v60.61zM235 488.1v-60.61h1v60.61zM237 488.1v-60.61h1v60.61zM239 488.1v-55.1h1v55.1zM250 488.1v-55.1h1v55.1zM252 488.1v-55.1h1v55.1zM254 488.1v-55.1h1v55.1zM256 488.1v-55.1h1v55.1zM276 488.1v-55.1h1v55.1zM278 488.1v-55.1h1v55.1zM280 488.1v-55.1h1v55.1zM282 488.1v-55.1h1v55.1zM293 488.1v-55.1h1v55.1zM295 488.1v-55.1h1v55.1zM297 488.1v-55.1h1v55.1zM299 488.1v-55.1h1v55.1zM319 488.1v-49.59h1v49.59zM321 488.1v-49.59h1v49.59zM323 488.1v-49.59h1v49.59zM325 488.1v-49.59h1v49.59zM336 488.1v-49.59h1v49.59zM338 488.1v-49.59h1v49.59zM340 488.1v-49.59h1v49.59zM342 488.1v-49.59h1v49.59zM362 488.1v-44.08h1v44.08zM364 488.1v-44.08h1v44.08zM366 488.1v-44.08h1v44.08zM368 488.1v-44.08h1v44.08zM379 488.1v-44.08h1v44.08zM381 488.1v-44.08h1v44.08zM383 488.1v-44.08h1v44.08zM385 488.1v-44.08h1v44.08zM403 488.1v-44.08h1v44.08zM405 488.1v-44.08h1v44.08zM407 488.1v-44.08h1v44.08zM409 488.1v-44.08h1v44.08zM422 488.1v-38.57h1v38.57zM424 488.1v-38.57h1v38.57zM426 488.1v-38.57h1v38.57zM428 488.1v-38.57h1v38.57zM446 488.1v-38.57h1v38.57zM448 488.1v-38.57h1v38.57zM450 488.1v-38.57h1v38.57zM452 488.1v-38.57h1v38.57zM463 488.1v-38.57h1v38.57zM465 488.1v-33.06h1v33.06zM467 488.1v-33.06h1v33.06zM469 488.1v-33.06h1v33.06zM471 488.1v-33.06h1v33.06zM489 488.1v-33.06h1v33.06zM491 488.1v-33.06h1v33.06zM493 488.1v-33.06h1v33.06zM495 488.1v-33.06h1v33.06zM506 488.1v-33.06h1v33.06zM508 488.1v-33.06h1v33.06zM510 488.1v-33.06h1v33.06zM512 488.1v-33.06h1v33.06zM514 488.1v-33.06h1v33.06zM532 488.1v-27.55h1v27.55zM534 488.1v-27.55h1v27.55zM536 488.1v-27.55h1v27.55zM538 488.1v-27.55h1v27.55zM549 488.1v-27.55h1v27.55zM551 488.1v-27.55h1v27.55zM553 488.1v-27.55h1v27.55zM555 488.1v-27.55h1v27.55zM575 488.1v-27.55h1v27.55zM577 488.1v-27.55h1v27.55zM579 488.1v-27.55h1v27.55zM581 488.1v-27.55h1v27.55zM592 488.1v-22.04h1v22.04zM594 488.1v-22.04h1v22.04zM596 488.1v-22.04h1v22.04zM598 488.1v-22.04h1v22.04zM616 488.1v-22.04h1v22.04zM618 488.1v-22.04h1v22.04zM620 488.1v-22.04h1v22.04zM622 488.1v-22.04h1v22.04zM624 488.1v-22.04h1v22.04zM635 488.1v-16.53h1v16.53zM637 488.1v-16.53h1v16.53zM639 488.1v-16.53h1v16.53zM641 488.1v-16.53h1v16.53zM659 488.1v-16.53h1v16.53zM661 488.1v-11.02h1v11.02zM663 488.1v-11.02h1v11.02zM665 488.1v-11.02h1v11.02zM667 488.1v-11.02h1v11.02zM678 488.1v-11.02h1v11.02zM680 488.1v-5.51h1v5.51zM682 488.1v-5.51h1v5.51zM684 488.1v-5.51h1v5.51z" fill="#5B9BD5" fill-opacity="0.7" shape-rendering="crispEdges"/>
<path d="M53 488.1v-126.73h1v126.73zM55 488.1v-121.22h1v121.22zM57 488.1v-115.71h1v115.71zM59 488.1v-110.2h1v110.2zM61 488.1v-110.2h1v110.2zM88 488.1v-82.65h1v82.65zM90 488.1v-82.65h1v82.65zM92 488.1v-82.65h1v82.65zM94 488.1v-82.65h1v82.65zM96 488.1v-82.65h1v82.65zM98 488.1v-82.65h1v82.65zM100 488.1v-82.65h1v82.65zM102 488.1v-77.14h1v77.14zM131 488.1v-77.14h1v77.14zM133 488.1v-77.14h1v77.14zM135 488.1v-71.63h1v71.63zM137 488.1v-71.63h1v71.63zM139 488.1v-71.63h1v71.63zM141 488.1v-71.63h1v71.63zM143 488.1v-71.63h1v71.63zM145 488.1v-71.63h1v71.63zM174 488.1v-66.12h1v66.12zM176 488.1v-66.12h1v66.12zM178 488.1v-66.12h1v66.12zM180 488.1v-66.12h1v66.12zM182 488.1v-66.12h1v66.12zM184 488.1v-66.12h1v66.12zM186 488.1v-66.12h1v66.12zM188 488.1v-66.12h1v66.12zM217 488.1v-60.61h1v60.61zM219 488.1v-60.61h1v60.61zM221 488.1v-60.61h1v60.61zM223 488.1v-60.61h1v60.61zM225 488.1v-60.61h1v60.61zM227 488.1v-60.61h1v60.61zM229 488.1v-60.61h1v60.61zM231 488.1v-60.61h1v60.61zM258 488.1v-55.1h1v55.1zM260 488.1v-55.1h1v55.1zM262 488.1v-55.1h1v55.1zM264 488.1v-55.1h1v55.1zM266 488.1v-55.1h1v55.1zM268 488.1v-55.1h1v55.1zM270 488.1v-55.1h1v55.1zM272 488.1v-55.1h1v55.1zM274 488.1v-55.1h1v55.1zM301 488.1v-55.1h1v55.1zM303 488.1v-49.59h1v49.59zM305 488.1v-49.59h1v49.59zM307 488.1v-49.59h1v49.59zM309 488.1v-49.59h1v49.59zM311 488.1v-49.59h1v49.59zM313 488.1v-49.59h1v49.59zM315 488.1v-49.59h1v49.59zM317 488.1v-49.59h1v49.59zM344 488.1v-49.59h1v49.59zM346 488.1v-49.59h1v49.59zM348 488.1v-44.08h1v44.08zM350 488.1v-44.08h1v44.08zM352 488.1v-44.08h1v44.08zM354 488.1v-44.08h1v44.08zM356 488.1v-44.08h1v44.08zM358 488.1v-44.08h1v44.08zM360 488.1v-44.08h1v44.08zM387 488.1v-44.08h1v44.08zM389 488.1v-44.08h1v44.08zM391 488.1v-44.08h1v44.08zM393 488.1v-44.08h1v44.08zM395 488.1v-44.08h1v44.08zM397 488.1v-44.08h1v44.08zM399 488.1v-44.08h1v44.08zM401 488.1v-44.08h1v44.08zM430 488.1v-38.57h1v38.57zM432 488.1v-38.57h1v38.57zM434 488.1v-38.57h1v38.57zM436 488.1v-38.57h1v38.57zM438 488.1v-38.57h1v38.57zM440 488.1v-38.57h1v38.57zM442 488.1v-38.57h1v38.57zM444 488.1v-38.57h1v38.57zM473 488.1v-33.06h1v33.06zM475 488.1v-33.06h1v33.06zM477 488.1v-33.06h1v33.06zM479 488.1v-33.06h1v33.06zM481 488.1v-33.06h1v33.06zM483 488.1v-33.06h1v33.06zM485 488.1v-33.06h1v33.06zM487 488.1v-33.06h1v33.06zM516 488.1v-33.06h1v33.06zM518 488.1v-33.06h1v33.06zM520 488.1v-27.55h1v27.55zM522 488.1v-27.55h1v27.55zM524 488.1v-27.55h1v27.55zM526 488.1v-27.55h1v27.55zM528 488.1v-27.55h1v27.55zM530 488.1v-27.55h1v27.55zM557 488.1v-27.55h1v27.55zM559 488.1v-27.55h1v27.55zM561 488.1v-27.55h1v27.55zM563 488.1v-27.55h1v27.55zM565 488.1v-27.55h1v27.55zM567 488.1v-27.55h1v27.55zM569 488.1v-27.55h1v27.55zM571 488.1v-27.55h1v27.55zM573 488.1v-27.55h1v27.55zM600 488.1v-22.04h1v22.04zM602 488.1v-22.04h1v22.04zM604 488.1v-22.04h1v22.04zM606 488.1v-22.04h1v22.04zM608 488.1v-22.04h1v22.04zM610 488.1v-22.04h1v22.04zM612 488.1v-22.04h1v22.04zM614 488.1v-22.04h1v22.04zM643 488.1v-16.53h1v16.53zM645 488.1v-16.53h1v16.53zM647 488.1v-16.53h1v16.53zM649 488.1v-16.53h1v16.53zM651 488.1v-16.53h1v16.53zM653 488.1v-16.53h1v16.53zM655 488.1v-16.53h1v16.53zM657 488.1v-16.53h1v16.53z" fill="#5B9BD5" fill-opacity="0.8" shape-rendering="crispEdges"/>
<path d="M475 455.04v-5.51h3v5.51zM663 477.08v-5.51h3v5.51zM676 477.08v-5.51h3v5.51z" fill="#D41818" fill-opacity="0.16" shape-rendering="crispEdges"/>
<path d="M68 488.1v-27.55h1v27.55zM70 488.1v-22.04h1v22.04zM72 488.1v-49.59h1v49.59zM74 488.1v-22.04h1v22.04zM77 488.1v-27.55h1v27.55zM79 488.1v-44.08h1v44.08zM81 488.1v-27.55h1v27.55zM111 488.1v-22.04h1v22.04zM113 488.1v-16.53h1v16.53zM115 488.1v-38.57h1v38.57zM117 488.1v-33.06h1v33.06zM120 488.1v-22.04h1v22.04zM122 488.1v-38.57h1v38.57zM124 488.1v-33.06h1v33.06zM154 488.1v-22.04h1v22.04zM156 488.1v-11.02h1v11.02zM158 488.1v-38.57h1v38.57zM160 488.1v-27.55h1v27.55zM163 488.1v-16.53h1v16.53zM165 488.1v-11.02h1v11.02zM167 488.1v-27.55h1v27.55zM197 488.1v-38.57h1v38.57zM199 488.1v-27.55h1v27.55zM201 488.1v-11.02h1v11.02zM204 488.1v-49.59h1v49.59zM206 488.1v-44.08h1v44.08zM208 488.1v-27.55h1v27.55zM210 488.1v-22.04h1v22.04zM240 488.1v-33.06h1v33.06zM242 488.1v-11.02h1v11.02zM244 488.1v-27.55h1v27.55zM247 488.1v-16.53h1v16.53zM249 488.1v-38.57h1v38.57zM251 488.1v-16.53h1v16.53zM253 488.1v-44.08h1v44.08zM283 488.1v-33.06h1v33.06zM285 488.1v-33.06h1v33.06zM287 488.1v-22.04h1v22.04zM290 488.1v-22.04h1v22.04zM292 488.1v-16.53h1v16.53zM294 488.1v-11.02h1v11.02zM296 488.1v-49.59h1v49.59zM324 488.1v-22.04h1v22.04zM326 488.1v-5.51h1v5.51zM328 488.1v-5.51h1v5.51zM330 488.1v-11.02h1v11.02zM333 488.1v-11.02h1v11.02zM335 488.1v-5.51h1v5.51zM367 488.1v-22.04h1v22.04zM369 488.1v-16.53h1v16.53zM371 488.1v-22.04h1v22.04zM373 488.1v-16.53h1v16.53zM376 488.1v-5.51h1v5.51zM378 488.1v-16.53h1v16.53zM380 488.1v-5.51h1v5.51zM414 488.1v-27.55h1v27.55zM416 488.1v-38.57h1v38.57zM419 488.1v-27.55h1v27.55zM421 488.1v-11.02h1v11.02zM423 488.1v-5.51h1v5.51zM453 488.1v-11.02h1v11.02zM455 488.1v-22.04h1v22.04zM457 488.1v-5.51h1v5.51zM462 488.1v-27.55h1v27.55zM464 488.1v-16.53h1v16.53zM466 488.1v-16.53h1v16.53zM496 488.1v-5.51h1v5.51zM498 488.1v-22.04h1v22.04zM500 488.1v-22.04h1v22.04zM503 488.1v-16.53h1v16.53zM505 488.1v-16.53h1v16.53zM507 488.1v-27.55h1v27.55zM509 488.1v-16.53h1v16.53zM539 488.1v-16.53h1v16.53zM543 488.1v-5.51h1v5.51zM548 488.1v-16.53h1v16.53zM550 488.1v-5.51h1v5.51zM580 488.1v-11.02h1v11.02zM582 488.1v-11.02h1v11.02zM584 488.1v-22.04h1v22.04zM586 488.1v-11.02h1v11.02zM589 488.1v-5.51h1v5.51zM591 488.1v-22.04h1v22.04zM593 488.1v-16.53h1v16.53zM623 488.1v-11.02h1v11.02zM625 488.1v-5.51h1v5.51zM627 488.1v-16.53h1v16.53zM629 488.1v-11.02h1v11.02zM632 488.1v-11.02h1v11.02zM634 488.1v-11.02h1v11.02zM636 488.1v-22.04h1v22.04zM666 488.1v-5.51h1v5.51zM668 488.1v-5.51h1v5.51zM672 488.1v-11.02h1v11.02zM675 488.1v-5.51h1v5.51zM677 488.1v-16.53h1v16.53z" fill="#D41818" fill-opacity="0.6" shape-rendering="crispEdges"/>
<path d="M62 488.1v-22.04h1v22.04zM64 488.1v-38.57h1v38.57zM66 488.1v-55.1h1v55.1zM83 488.1v-38.57h1v38.57zM85 488.1v-38.57h1v38.57zM87 488.1v-44.08h1v44.08zM89 488.1v-33.06h1v33.06zM105 488.1v-38.57h1v38.57zM107 488.1v-27.55h1v27.55zM109 488.1v-27.55h1v27.55zM126 488.1v-16.53h1v16.53zM128 488.1v-16.53h1v16.53zM130 488.1v-5.51h1v5.51zM132 488.1v-44.08h1v44.08zM148 488.1v-16.53h1v16.53zM150 488.1v-11.02h1v11.02zM152 488.1v-22.04h1v22.04zM169 488.1v-44.08h1v44.08zM171 488.1v-44.08h1v44.08zM173 488.1v-16.53h1v16.53zM175 488.1v-16.53h1v16.53zM189 488.1v-27.55h1v27.55zM191 488.1v-16.53h1v16.53zM193 488.1v-5.51h1v5.51zM195 488.1v-44.08h1v44.08zM212 488.1v-5.51h1v5.51zM214 488.1v-22.04h1v22.04zM216 488.1v-27.55h1v27.55zM232 488.1v-27.55h1v27.55zM234 488.1v-5.51h1v5.51zM236 488.1v-11.02h1v11.02zM238 488.1v-16.53h1v16.53zM255 488.1v-16.53h1v16.53zM257 488.1v-5.51h1v5.51zM259 488.1v-11.02h1v11.02zM275 488.1v-27.55h1v27.55zM277 488.1v-22.04h1v22.04zM279 488.1v-22.04h1v22.04zM281 488.1v-22.04h1v22.04zM298 488.1v-49.59h1v49.59zM300 488.1v-33.06h1v33.06zM302 488.1v-11.02h1v11.02zM318 488.1v-27.55h1v27.55zM320 488.1v-27.55h1v27.55zM322 488.1v-16.53h1v16.53zM339 488.1v-5.51h1v5.51zM341 488.1v-5.51h1v5.51zM343 488.1v-33.06h1v33.06zM345 488.1v-38.57h1v38.57zM361 488.1v-16.53h1v16.53zM363 488.1v-27.55h1v27.55zM365 488.1v-33.06h1v33.06zM382 488.1v-22.04h1v22.04zM384 488.1v-33.06h1v33.06zM386 488.1v-5.51h1v5.51zM404 488.1v-11.02h1v11.02zM406 488.1v-11.02h1v11.02zM408 488.1v-5.51h1v5.51zM425 488.1v-16.53h1v16.53zM427 488.1v-22.04h1v22.04zM429 488.1v-11.02h1v11.02zM431 488.1v-5.51h1v5.51zM445 488.1v-27.55h1v27.55zM447 488.1v-27.55h1v27.55zM449 488.1v-16.53h1v16.53zM451 488.1v-22.04h1v22.04zM470 488.1v-5.51h1v5.51zM472 488.1v-16.53h1v16.53zM488 488.1v-11.02h1v11.02zM490 488.1v-5.51h1v5.51zM492 488.1v-5.51h1v5.51zM511 488.1v-27.55h1v27.55zM513 488.1v-11.02h1v11.02zM531 488.1v-11.02h1v11.02zM537 488.1v-5.51h1v5.51zM554 488.1v-11.02h1v11.02zM556 488.1v-5.51h1v5.51zM558 488.1v-11.02h1v11.02zM574 488.1v-5.51h1v5.51zM578 488.1v-5.51h1v5.51zM595 488.1v-11.02h1v11.02zM621 488.1v-11.02h1v11.02zM638 488.1v-5.51h1v5.51zM644 488.1v-5.51h1v5.51zM660 488.1v-11.02h1v11.02zM662 488.1v-11.02h1v11.02zM664 488.1v-16.53h1v16.53zM681 488.1v-5.51h1v5.51zM685 488.1v-5.51h1v5.51z" fill="#D41818" fill-opacity="0.7" shape-rendering="crispEdges"/>
<path d="M54 488.1v-49.59h1v49.59zM56 488.1v-44.08h1v44.08zM58 488.1v-49.59h1v49.59zM60 488.1v-38.57h1v38.57zM91 488.1v-27.55h1v27.55zM93 488.1v-27.55h1v27.55zM95 488.1v-5.51h1v5.51zM97 488.1v-27.55h1v27.55zM99 488.1v-55.1h1v55.1zM101 488.1v-16.53h1v16.53zM103 488.1v-22.04h1v22.04zM134 488.1v-33.06h1v33.06zM136 488.1v-27.55h1v27.55zM138 488.1v-16.53h1v16.53zM140 488.1v-5.51h1v5.51zM142 488.1v-22.04h1v22.04zM144 488.1v-16.53h1v16.53zM146 488.1v-16.53h1v16.53zM177 488.1v-27.55h1v27.55zM179 488.1v-22.04h1v22.04zM181 488.1v-22.04h1v22.04zM183 488.1v-44.08h1v44.08zM185 488.1v-22.04h1v22.04zM187 488.1v-33.06h1v33.06zM218 488.1v-27.55h1v27.55zM220 488.1v-16.53h1v16.53zM222 488.1v-16.53h1v16.53zM224 488.1v-5.51h1v5.51zM228 488.1v-49.59h1v49.59zM230 488.1v-38.57h1v38.57zM261 488.1v-33.06h1v33.06zM263 488.1v-33.06h1v33.06zM265 488.1v-27.55h1v27.55zM267 488.1v-33.06h1v33.06zM269 488.1v-16.53h1v16.53zM271 488.1v-11.02h1v11.02zM273 488.1v-27.55h1v27.55zM304 488.1v-16.53h1v16.53zM306 488.1v-33.06h1v33.06zM308 488.1v-5.51h1v5.51zM310 488.1v-5.51h1v5.51zM312 488.1v-16.53h1v16.53zM314 488.1v-27.55h1v27.55zM316 488.1v-27.55h1v27.55zM347 488.1v-5.51h1v5.51zM349 488.1v-22.04h1v22.04zM353 488.1v-16.53h1v16.53zM355 488.1v-11.02h1v11.02zM357 488.1v-11.02h1v11.02zM359 488.1v-22.04h1v22.04zM392 488.1v-11.02h1v11.02zM394 488.1v-5.51h1v5.51zM398 488.1v-27.55h1v27.55zM400 488.1v-22.04h1v22.04zM402 488.1v-27.55h1v27.55zM433 488.1v-11.02h1v11.02zM435 488.1v-5.51h1v5.51zM437 488.1v-11.02h1v11.02zM439 488.1v-22.04h1v22.04zM443 488.1v-22.04h1v22.04zM474 488.1v-27.55h1v27.55zM476 488.1v-38.57h1v38.57zM478 488.1v-22.04h1v22.04zM480 488.1v-22.04h1v22.04zM482 488.1v-16.53h1v16.53zM484 488.1v-16.53h1v16.53zM486 488.1v-27.55h1v27.55zM517 488.1v-16.53h1v16.53zM519 488.1v-11.02h1v11.02zM523 488.1v-16.53h1v16.53zM525 488.1v-16.53h1v16.53zM527 488.1v-11.02h1v11.02zM529 488.1v-5.51h1v5.51zM560 488.1v-22.04h1v22.04zM564 488.1v-22.04h1v22.04zM566 488.1v-16.53h1v16.53zM568 488.1v-16.53h1v16.53zM570 488.1v-11.02h1v11.02zM572 488.1v-22.04h1v22.04zM605 488.1v-22.04h1v22.04zM607 488.1v-11.02h1v11.02zM609 488.1v-11.02h1v11.02zM611 488.1v-22.04h1v22.04zM613 488.1v-11.02h1v11.02zM615 488.1v-11.02h1v11.02zM646 488.1v-5.51h1v5.51zM648 488.1v-5.51h1v5.51zM650 488.1v-16.53h1v16.53zM652 488.1v-16.53h1v16.53zM654 488.1v-5.51h1v5.51zM656 488.1v-11.02h1v11.02zM658 488.1v-16.53h1v16.53z" fill="#D41818" fill-opacity="0.8" shape-rendering="crispEdges"/>
<line x1="52.2" y1="350" x2="52.2" y2="488.6" stroke="#BFBFBF" stroke-width="1.3"/>
<line x1="51.5" y1="488.6" x2="685" y2="488.6" stroke="#D9D9D9" stroke-width="1"/>
<text x="36.8" y="493" text-anchor="end" font-size="14.2" fill="#5e5e5e">0</text>
<text x="36.8" y="465.45" text-anchor="end" font-size="14.2" fill="#5e5e5e">5</text>
<text x="36.8" y="437.9" text-anchor="end" font-size="14.2" fill="#5e5e5e">10</text>
<text x="36.8" y="410.35" text-anchor="end" font-size="14.2" fill="#5e5e5e">15</text>
<text x="36.8" y="382.8" text-anchor="end" font-size="14.2" fill="#5e5e5e">20</text>
<text x="36.8" y="355.25" text-anchor="end" font-size="14.2" fill="#5e5e5e">25</text>
<text transform="translate(58.8 499.8) rotate(-90)" text-anchor="end" font-size="14.6" fill="#5e5e5e">1</text>
<text transform="translate(79.25 499.8) rotate(-90)" text-anchor="end" font-size="14.6" fill="#5e5e5e">11</text>
<text transform="translate(99.7 499.8) rotate(-90)" text-anchor="end" font-size="14.6" fill="#5e5e5e">21</text>
<text transform="translate(120.15 499.8) rotate(-90)" text-anchor="end" font-size="14.6" fill="#5e5e5e">31</text>
<text transform="translate(140.6 499.8) rotate(-90)" text-anchor="end" font-size="14.6" fill="#5e5e5e">41</text>
<text transform="translate(161.05 499.8) rotate(-90)" text-anchor="end" font-size="14.6" fill="#5e5e5e">51</text>
<text transform="translate(181.5 499.8) rotate(-90)" text-anchor="end" font-size="14.6" fill="#5e5e5e">61</text>
<text transform="translate(201.95 499.8) rotate(-90)" text-anchor="end" font-size="14.6" fill="#5e5e5e">71</text>
<text transform="translate(222.4 499.8) rotate(-90)" text-anchor="end" font-size="14.6" fill="#5e5e5e">81</text>
<text transform="translate(242.85 499.8) rotate(-90)" text-anchor="end" font-size="14.6" fill="#5e5e5e">91</text>
<text transform="translate(263.3 499.8) rotate(-90)" text-anchor="end" font-size="14.6" fill="#5e5e5e">101</text>
<text transform="translate(283.75 499.8) rotate(-90)" text-anchor="end" font-size="14.6" fill="#5e5e5e">111</text>
<text transform="translate(304.2 499.8) rotate(-90)" text-anchor="end" font-size="14.6" fill="#5e5e5e">121</text>
<text transform="translate(324.65 499.8) rotate(-90)" text-anchor="end" font-size="14.6" fill="#5e5e5e">131</text>
<text transform="translate(345.1 499.8) rotate(-90)" text-anchor="end" font-size="14.6" fill="#5e5e5e">141</text>
<text transform="translate(365.55 499.8) rotate(-90)" text-anchor="end" font-size="14.6" fill="#5e5e5e">151</text>
<text transform="translate(386 499.8) rotate(-90)" text-anchor="end" font-size="14.6" fill="#5e5e5e">161</text>
<text transform="translate(406.45 499.8) rotate(-90)" text-anchor="end" font-size="14.6" fill="#5e5e5e">171</text>
<text transform="translate(426.9 499.8) rotate(-90)" text-anchor="end" font-size="14.6" fill="#5e5e5e">181</text>
<text transform="translate(447.35 499.8) rotate(-90)" text-anchor="end" font-size="14.6" fill="#5e5e5e">191</text>
<text transform="translate(467.8 499.8) rotate(-90)" text-anchor="end" font-size="14.6" fill="#5e5e5e">201</text>
<text transform="translate(488.25 499.8) rotate(-90)" text-anchor="end" font-size="14.6" fill="#5e5e5e">211</text>
<text transform="translate(508.7 499.8) rotate(-90)" text-anchor="end" font-size="14.6" fill="#5e5e5e">221</text>
<text transform="translate(529.15 499.8) rotate(-90)" text-anchor="end" font-size="14.6" fill="#5e5e5e">231</text>
<text transform="translate(549.6 499.8) rotate(-90)" text-anchor="end" font-size="14.6" fill="#5e5e5e">241</text>
<text transform="translate(570.05 499.8) rotate(-90)" text-anchor="end" font-size="14.6" fill="#5e5e5e">251</text>
<text transform="translate(590.5 499.8) rotate(-90)" text-anchor="end" font-size="14.6" fill="#5e5e5e">261</text>
<text transform="translate(610.95 499.8) rotate(-90)" text-anchor="end" font-size="14.6" fill="#5e5e5e">271</text>
<text transform="translate(631.4 499.8) rotate(-90)" text-anchor="end" font-size="14.6" fill="#5e5e5e">281</text>
<text transform="translate(651.85 499.8) rotate(-90)" text-anchor="end" font-size="14.6" fill="#5e5e5e">291</text>
<text transform="translate(672.3 499.8) rotate(-90)" text-anchor="end" font-size="14.6" fill="#5e5e5e">301</text>
<text transform="translate(11.2 514.7) rotate(-90)" font-size="13.5" fill="#5e5e5e" textLength="158.5" lengthAdjust="spacingAndGlyphs">Number of visible locations</text>
<text x="268.5" y="546" font-size="16.2" fill="#5e5e5e" textLength="199.8" lengthAdjust="spacingAndGlyphs">Intersections (street nodes)</text>
</g>
<text class="cap" x="341.7" y="590.2" textLength="24.4" lengthAdjust="spacingAndGlyphs">(b)</text>
</svg>
</body></html>
